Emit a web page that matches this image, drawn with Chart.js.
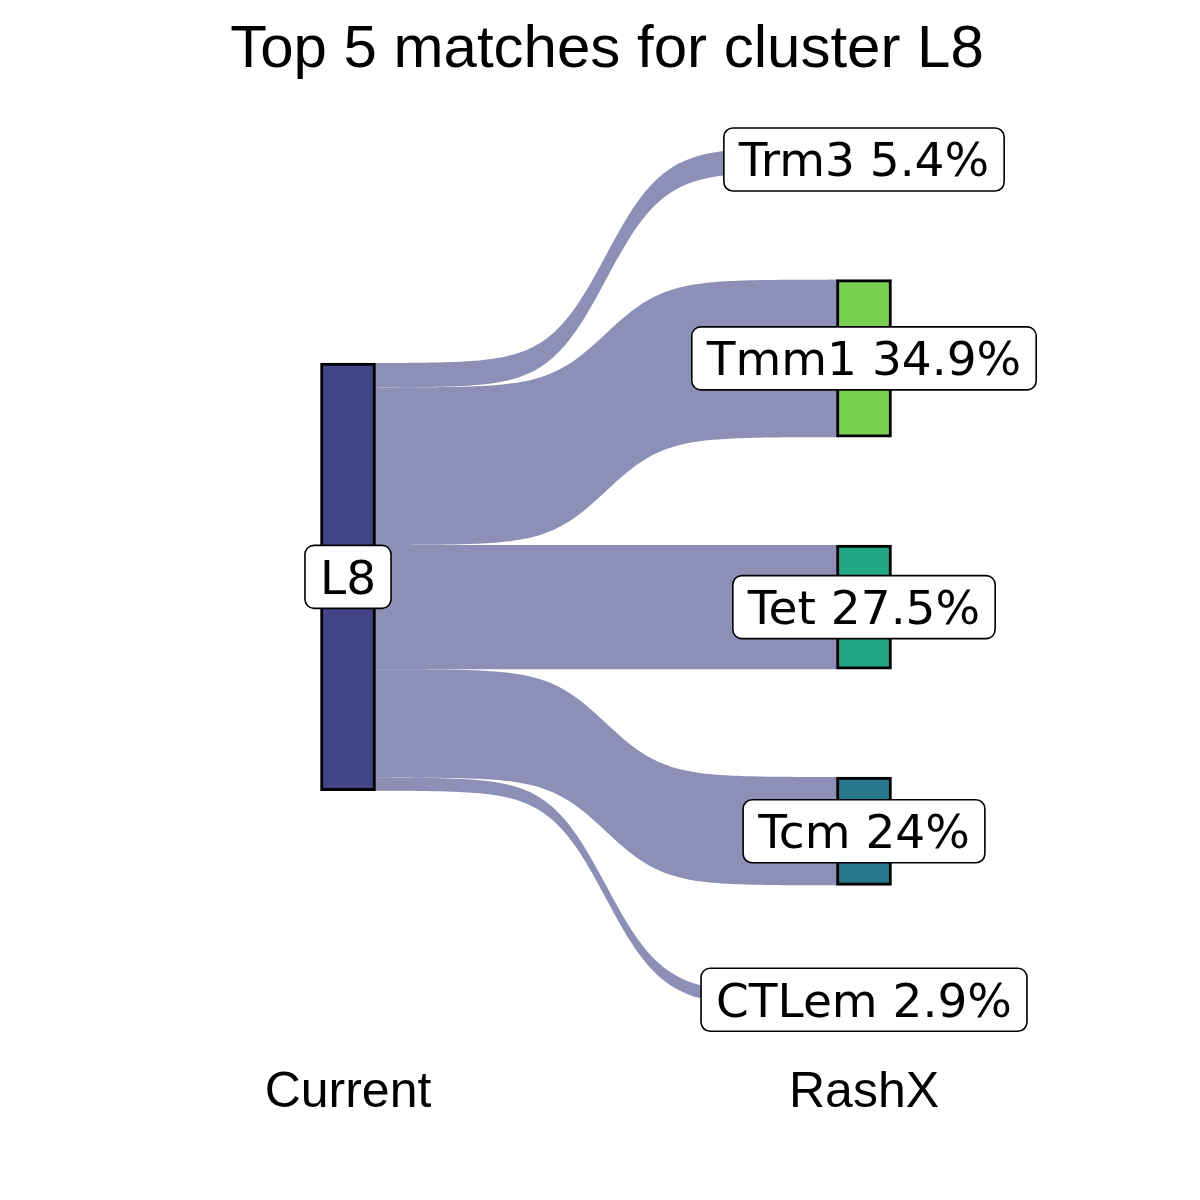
<!DOCTYPE html>
<html><head><meta charset="utf-8">
<script src="https://cdn.jsdelivr.net/npm/chart.js@4.4.1/dist/chart.umd.min.js"></script>
<style>html,body{margin:0;padding:0;background:#fff}#wrap{width:1200px;height:1200px}</style>
</head><body><div id="wrap"><canvas id="c" width="1200" height="1200"></canvas></div>
<script>
const titleText = 'Top 5 matches for cluster L8';
const axisNames = ['Current', 'RashX'];
const sourceCluster = 'L8';
const categories = ['Trm3', 'Tmm1', 'Tet', 'Tcm', 'CTLem'];
const matchPercent = [5.4, 34.9, 27.5, 24, 2.9];

// layout / style constants
const GAP = 23.9;          // vertical gap between target nodes (in % units)
const NODE_W = 0.1;        // node width in x units
const nodeColors = { L8: '#414487', Trm3: '#FDE725', Tmm1: '#7AD151', Tet: '#22A884', Tcm: '#2A788E', CTLem: '#440154' };
const flowColor = 'rgba(65,68,135,0.6)';
const LABEL_FONT = "47px 'DejaVu Sans', sans-serif";

// stacking
const total = matchPercent.reduce((a, b) => a + b, 0);
const rightSpan = total + GAP * (categories.length - 1);
const rightRanges = [];
let pos = 0;
matchPercent.forEach(v => { rightRanges.push([pos, pos + v]); pos += v + GAP; });
const leftStart = (rightSpan - total) / 2;
const leftRanges = [];
pos = leftStart;
matchPercent.forEach(v => { leftRanges.push([pos, pos + v]); pos += v; });

const nodeNames = [sourceCluster].concat(categories);
const nodeData = [{ x: 1, y: [leftStart, leftStart + total] }].concat(rightRanges.map(r => ({ x: 2, y: r })));
const nodeLabels = [sourceCluster].concat(categories.map((c, i) => c + ' ' + matchPercent[i] + '%'));

function sigmoidPts(x0, x1, y0, y1, n) {
  const pts = [];
  const s = 8;
  for (let i = 0; i < n; i++) {
    const t = -s + (2 * s) * i / (n - 1);
    const e = Math.exp(t) / (Math.exp(t) + 1);
    pts.push([x0 + (t + s) / (2 * s) * (x1 - x0), y0 + e * (y1 - y0)]);
  }
  return pts;
}

const flowPlugin = {
  id: 'flows',
  beforeDatasetsDraw(chart) {
    const { ctx, scales: { x, y } } = chart;
    ctx.save();
    const xa = x.getPixelForValue(1 + NODE_W / 2);
    const xb = x.getPixelForValue(2 - NODE_W / 2);
    categories.forEach((c, i) => {
      const top = sigmoidPts(xa, xb, y.getPixelForValue(leftRanges[i][0]), y.getPixelForValue(rightRanges[i][0]), 120);
      const bot = sigmoidPts(xa, xb, y.getPixelForValue(leftRanges[i][1]), y.getPixelForValue(rightRanges[i][1]), 120);
      ctx.beginPath();
      ctx.moveTo(top[0][0], top[0][1]);
      top.forEach(p => ctx.lineTo(p[0], p[1]));
      for (let k = bot.length - 1; k >= 0; k--) ctx.lineTo(bot[k][0], bot[k][1]);
      ctx.closePath();
      ctx.fillStyle = flowColor;
      ctx.fill();
    });
    ctx.restore();
  }
};

function roundRect(ctx, x, y, w, h, r) {
  ctx.beginPath();
  ctx.moveTo(x + r, y);
  ctx.lineTo(x + w - r, y);
  ctx.arcTo(x + w, y, x + w, y + r, r);
  ctx.lineTo(x + w, y + h - r);
  ctx.arcTo(x + w, y + h, x + w - r, y + h, r);
  ctx.lineTo(x + r, y + h);
  ctx.arcTo(x, y + h, x, y + h - r, r);
  ctx.lineTo(x, y + r);
  ctx.arcTo(x, y, x + r, y, r);
  ctx.closePath();
}

const labelPlugin = {
  id: 'nodeLabels',
  afterDatasetsDraw(chart) {
    const { ctx, scales: { x, y } } = chart;
    ctx.save();
    ctx.font = LABEL_FONT;
    nodeData.forEach((d, i) => {
      const cx = x.getPixelForValue(d.x);
      const cy = y.getPixelForValue((d.y[0] + d.y[1]) / 2);
      const txt = nodeLabels[i];
      const tw = ctx.measureText(txt).width;
      const bw = tw + 30, bh = 63;
      roundRect(ctx, cx - bw / 2, cy - bh / 2, bw, bh, 9);
      ctx.fillStyle = '#ffffff';
      ctx.fill();
      ctx.lineWidth = 1.6;
      ctx.strokeStyle = '#000000';
      ctx.stroke();
      ctx.fillStyle = '#000000';
      ctx.textAlign = 'center';
      ctx.textBaseline = 'alphabetic';
      ctx.fillText(txt, cx, cy + 17);
    });
    ctx.restore();
  }
};

new Chart(document.getElementById('c'), {
  type: 'bar',
  data: {
    datasets: [{
      data: nodeData,
      backgroundColor: nodeNames.map(n => nodeColors[n]),
      borderColor: '#000000',
      borderWidth: 3,
      borderSkipped: false,
      barThickness: 55
    }]
  },
  options: {
    responsive: false,
    animation: false,
    devicePixelRatio: 1,
    layout: { padding: { left: 14, right: 0, top: 0, bottom: 67 } },
    plugins: {
      legend: { display: false },
      tooltip: { enabled: false },
      title: {
        display: true,
        text: titleText,
        color: '#000000',
        font: { family: "'Liberation Sans', Arial, sans-serif", size: 60, weight: 'normal' },
        padding: { top: 14, bottom: 14 }
      }
    },
    scales: {
      x: {
        type: 'linear',
        offset: false,
        min: 0.35271,
        max: 2.65116,
        grid: { display: false, drawTicks: false },
        border: { display: false },
        afterBuildTicks: s => { s.ticks = [{ value: 1 }, { value: 2 }]; },
        ticks: {
          autoSkip: false,
          maxRotation: 0,
          padding: 10,
          color: '#000000',
          font: { family: "'Liberation Sans', Arial, sans-serif", size: 50 },
          callback: v => axisNames[Math.round(v) - 1]
        }
      },
      y: {
        type: 'linear',
        reverse: true,
        display: false,
        min: -10.48,
        max: 200.63
      }
    }
  },
  plugins: [flowPlugin, labelPlugin]
});
</script></body></html>
